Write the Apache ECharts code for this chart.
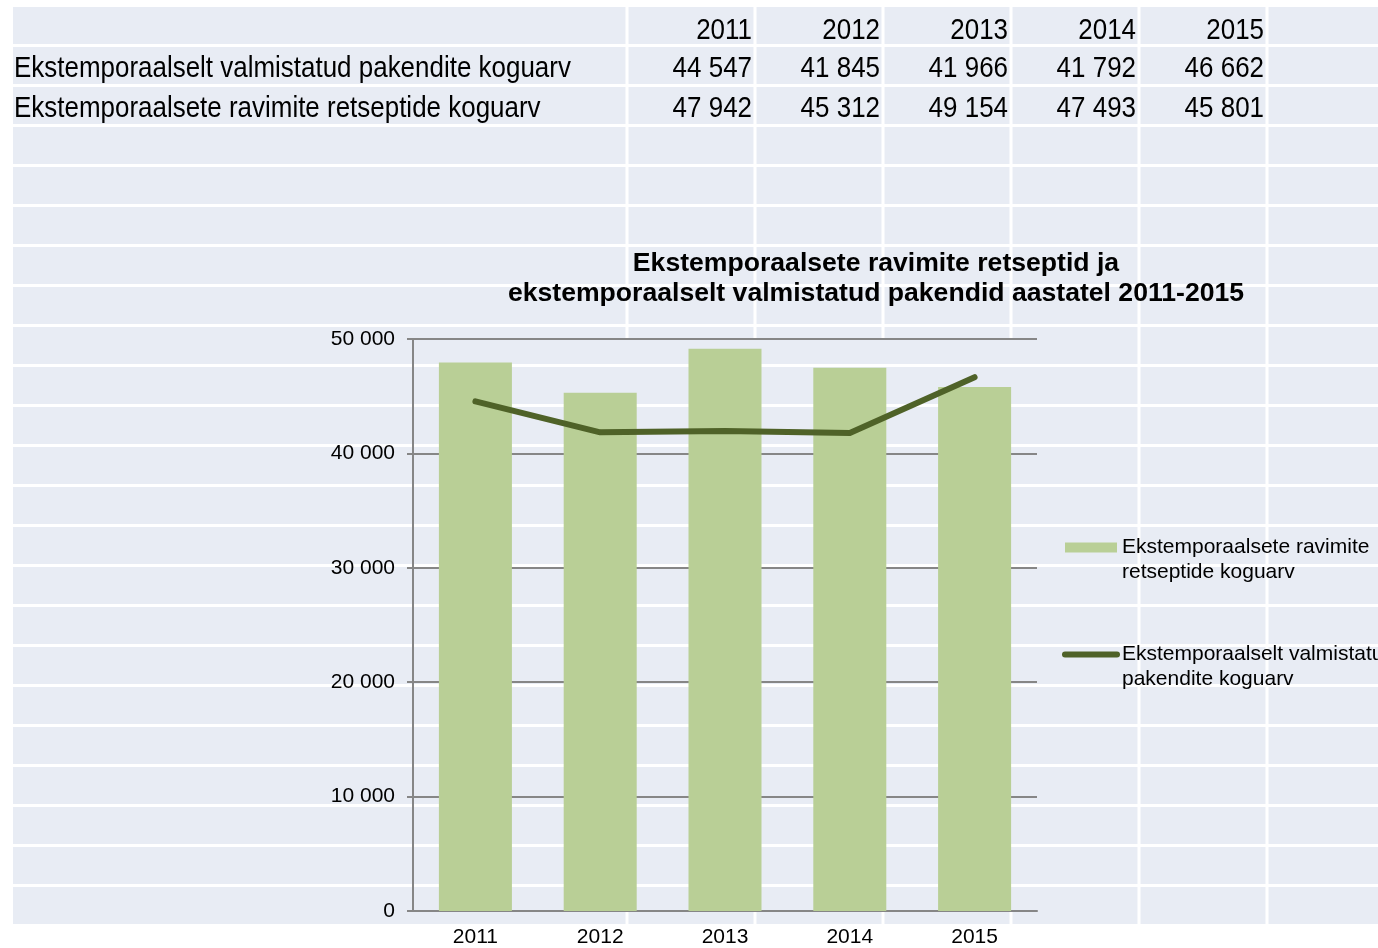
<!DOCTYPE html>
<html>
<head>
<meta charset="utf-8">
<script src="https://cdn.jsdelivr.net/npm/echarts@6/dist/echarts.min.js"></script>
<style>
html, body { margin: 0; padding: 0; background: #fff; }
#main { width: 1378px; height: 948px; }
</style>
</head>
<body>
<div id="main"></div>
<script>
// andmed
var years = ['2011', '2012', '2013', '2014', '2015'];
var pakendid = [44547, 41845, 41966, 41792, 46662];
var retseptid = [47942, 45312, 49154, 47493, 45801];
var seriesNames = ['Ekstemporaalsete ravimite retseptide koguarv', 'Ekstemporaalselt valmistatud pakendite koguarv'];
var legendLines = [
	['Ekstemporaalsete ravimite', 'retseptide koguarv'],
	['Ekstemporaalselt valmistatud', 'pakendite koguarv']
];
var tableRows = [
	{ label: 'Ekstemporaalselt valmistatud pakendite koguarv', values: pakendid },
	{ label: 'Ekstemporaalsete ravimite retseptide koguarv', values: retseptid }
];
var chartTitle = 'Ekstemporaalsete ravimite retseptid ja\nekstemporaalselt valmistatud pakendid aastatel 2011-2015';

// tabeli (lehe) paigutus
var sheetLeft = 13, sheetTop = 7, sheetBottom = 924, rowStep = 40, rowCount = 23;
var colLines = [627, 755, 883, 1011, 1139, 1267];
var plotLeft = 413, plotRight = 1037, plotTop = 339, plotBottom = 911;
var cellColor = '#e8ecf4';
var tableFont = '29px "Liberation Sans", Arial, sans-serif';

function fmt(v) {
	return String(v).replace(/\B(?=(\d{3})+(?!\d))/g, ' ');
}

// kitsendatud tabelitekst (originaalis kitsas kiri)
function textEl(str, x, y, align) {
	return {
		type : 'text',
		x : x,
		y : y,
		scaleX : 0.895,
		z : -5,
		style : {
			text : str,
			font : tableFont,
			fill : '#000',
			align : align,
			verticalAlign : 'middle',
			textAlign : align,
			textVerticalAlign : 'middle'
		}
	};
}

// lehe taust: lahtrid, read, veerud
var bg = [];
bg.push({
	type : 'rect', z : -10,
	shape : { x : sheetLeft, y : sheetTop, width : 1378 - sheetLeft, height : sheetBottom - sheetTop },
	style : { fill : cellColor }
});
for (var k = 0; k < rowCount - 1; k++) {
	bg.push({
		type : 'rect', z : -9,
		shape : { x : sheetLeft, y : sheetTop + 37 + k * rowStep, width : 1378 - sheetLeft, height : 3 },
		style : { fill : '#fff' }
	});
}
colLines.forEach(function(cx) {
	if (cx < plotRight) {
		bg.push({ type : 'rect', z : -9, shape : { x : cx - 1.5, y : sheetTop, width : 3, height : plotTop - sheetTop }, style : { fill : '#fff' } });
		bg.push({ type : 'rect', z : -9, shape : { x : cx - 1.5, y : plotBottom, width : 3, height : sheetBottom - plotBottom }, style : { fill : '#fff' } });
	} else {
		bg.push({ type : 'rect', z : -9, shape : { x : cx - 1.5, y : sheetTop, width : 3, height : sheetBottom - sheetTop }, style : { fill : '#fff' } });
	}
});

// tabeli tekst
var rowY = [31, 69, 109];
years.forEach(function(y, i) {
	bg.push(textEl(y, colLines[i + 1] - 3, rowY[0], 'right'));
});
tableRows.forEach(function(row, r) {
	bg.push(textEl(row.label, sheetLeft + 1, rowY[r + 1], 'left'));
	row.values.forEach(function(v, i) {
		bg.push(textEl(fmt(v), colLines[i + 1] - 3, rowY[r + 1], 'right'));
	});
});

var myChart = echarts.init(document.getElementById('main'));
var axisGray = '#868686';
var chartFont = '"Liberation Sans", Arial, sans-serif';
var option = {
	animation : false,
	backgroundColor : 'transparent',
	graphic : { elements : bg },
	title : {
		text : chartTitle,
		left : 876,
		top : 249,
		textAlign : 'center',
		padding : 0,
		textStyle : {
			fontFamily : chartFont,
			fontSize : 26.6,
			fontWeight : 'bold',
			color : '#000',
			lineHeight : 30
		}
	},
	legend : {
		orient : 'vertical',
		left : 1062,
		top : 510,
		padding : 0,
		itemWidth : 52,
		itemHeight : 10,
		itemGap : 32,
		data : [
			{ name : seriesNames[0], icon : 'rect' },
			{ name : seriesNames[1], lineStyle : { width : 6, cap : 'round' }, itemStyle : { opacity : 0 } }
		],
		// tühi esimene rida, et ikoon jääks esimese tekstirea kõrgusele
		formatter : function(name) {
			var l = legendLines[seriesNames.indexOf(name)];
			return '\n' + l[0] + '\n' + l[1];
		},
		textStyle : {
			fontFamily : chartFont,
			fontSize : 21,
			lineHeight : 25,
			color : '#000'
		}
	},
	grid : {
		left : plotLeft,
		right : 1378 - plotRight,
		top : plotTop,
		bottom : 948 - plotBottom
	},
	xAxis : {
		type : 'category',
		data : years,
		axisLine : { lineStyle : { color : axisGray, width : 2 } },
		axisTick : { show : false },
		axisLabel : { color : '#000', fontFamily : chartFont, fontSize : 21, margin : 16 },
		splitLine : { show : false }
	},
	yAxis : {
		type : 'value',
		min : 0,
		max : 50000,
		interval : 10000,
		axisLine : { show : true, lineStyle : { color : axisGray, width : 2 } },
		axisTick : { show : true, length : 6, lineStyle : { color : axisGray, width : 2 } },
		axisLabel : {
			color : '#000', fontFamily : chartFont, fontSize : 21, margin : 18,
			formatter : function(v) { return fmt(v); }
		},
		splitLine : { lineStyle : { color : axisGray, width : 2 } }
	},
	series : [
		{
			name : seriesNames[0],
			type : 'bar',
			data : retseptid,
			barWidth : '58.5%',
			itemStyle : { color : '#b9cf96' }
		},
		{
			name : seriesNames[1],
			type : 'line',
			data : pakendid,
			symbol : 'none',
			itemStyle : { color : '#4f6228' },
			lineStyle : { color : '#4f6228', width : 6, cap : 'round', join : 'round' }
		}
	]
};
myChart.setOption(option);
</script>
</body>
</html>
